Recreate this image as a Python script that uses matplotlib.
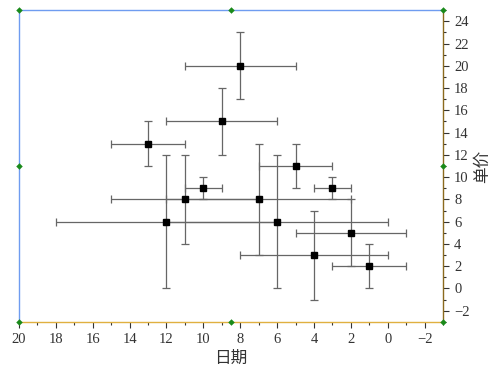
import matplotlib
matplotlib.use("Agg")
import matplotlib.pyplot as plt
from matplotlib.ticker import MultipleLocator

# Data
x_vals = [8, 9, 13, 10, 11, 12, 7, 6, 5, 3, 2, 4, 1]
y_vals = [20, 15, 13, 9, 8, 6, 8, 6, 11, 9, 5, 3, 2]
x_err = [3, 3, 2, 1, 4, 6, 5, 6, 2, 1, 3, 4, 2]
y_err = [3, 3, 2, 1, 4, 6, 5, 6, 2, 1, 3, 4, 2]

x_label = "日期"
y_label = "单价"

plt.rcParams['font.family'] = ['Liberation Serif', 'Noto Sans CJK SC', 'DejaVu Sans']

fig = plt.figure(figsize=(5, 3.76), dpi=100)
ax = fig.add_axes([0.038, 0.144, 0.848, 0.829])

ax.errorbar(x_vals, y_vals, xerr=x_err, yerr=y_err, fmt='s', color='black',
            markersize=5, ecolor='#666666', elinewidth=0.9, capsize=3,
            capthick=0.9, zorder=3)

ax.set_xlim(20, -3)
ax.set_ylim(-3, 25)

ax.xaxis.set_major_locator(MultipleLocator(2))
ax.xaxis.set_minor_locator(MultipleLocator(1))
ax.yaxis.set_major_locator(MultipleLocator(2))
ax.yaxis.set_minor_locator(MultipleLocator(1))

ax.yaxis.tick_right()
ax.yaxis.set_label_position('right')
ax.tick_params(axis='both', which='major', length=4, width=0.8, color='#333333',
               labelsize=10.5, labelcolor='#333333', direction='out', pad=4)
ax.tick_params(axis='both', which='minor', length=2.5, width=0.8, color='#333333',
               direction='out')
ax.tick_params(axis='y', which='both', left=False, right=True)
ax.tick_params(axis='x', which='both', top=False, bottom=True)

ax.set_xlabel(x_label, fontsize=12, color='#333333',
              family=['Noto Sans CJK SC'], labelpad=3)
ax.set_ylabel(y_label, fontsize=12, color='#333333',
              family=['Noto Sans CJK SC'], labelpad=3, rotation=90)

ax.spines['top'].set_color('#6f9cf0')
ax.spines['left'].set_color('#6f9cf0')
ax.spines['bottom'].set_color('#e0b040')
ax.spines['right'].set_color('#8b6a1e')
for s in ax.spines.values():
    s.set_linewidth(1.0)

# selection handles (decoration)
hx = [0, 0.5, 1, 0, 1, 0, 0.5, 1]
hy = [1, 1, 1, 0.5, 0.5, 0, 0, 0]
ax.scatter(hx, hy, marker='D', s=11, color='#1a8a1a', transform=ax.transAxes,
           clip_on=False, zorder=5, linewidths=0)

fig.savefig("out.png", dpi=100)
